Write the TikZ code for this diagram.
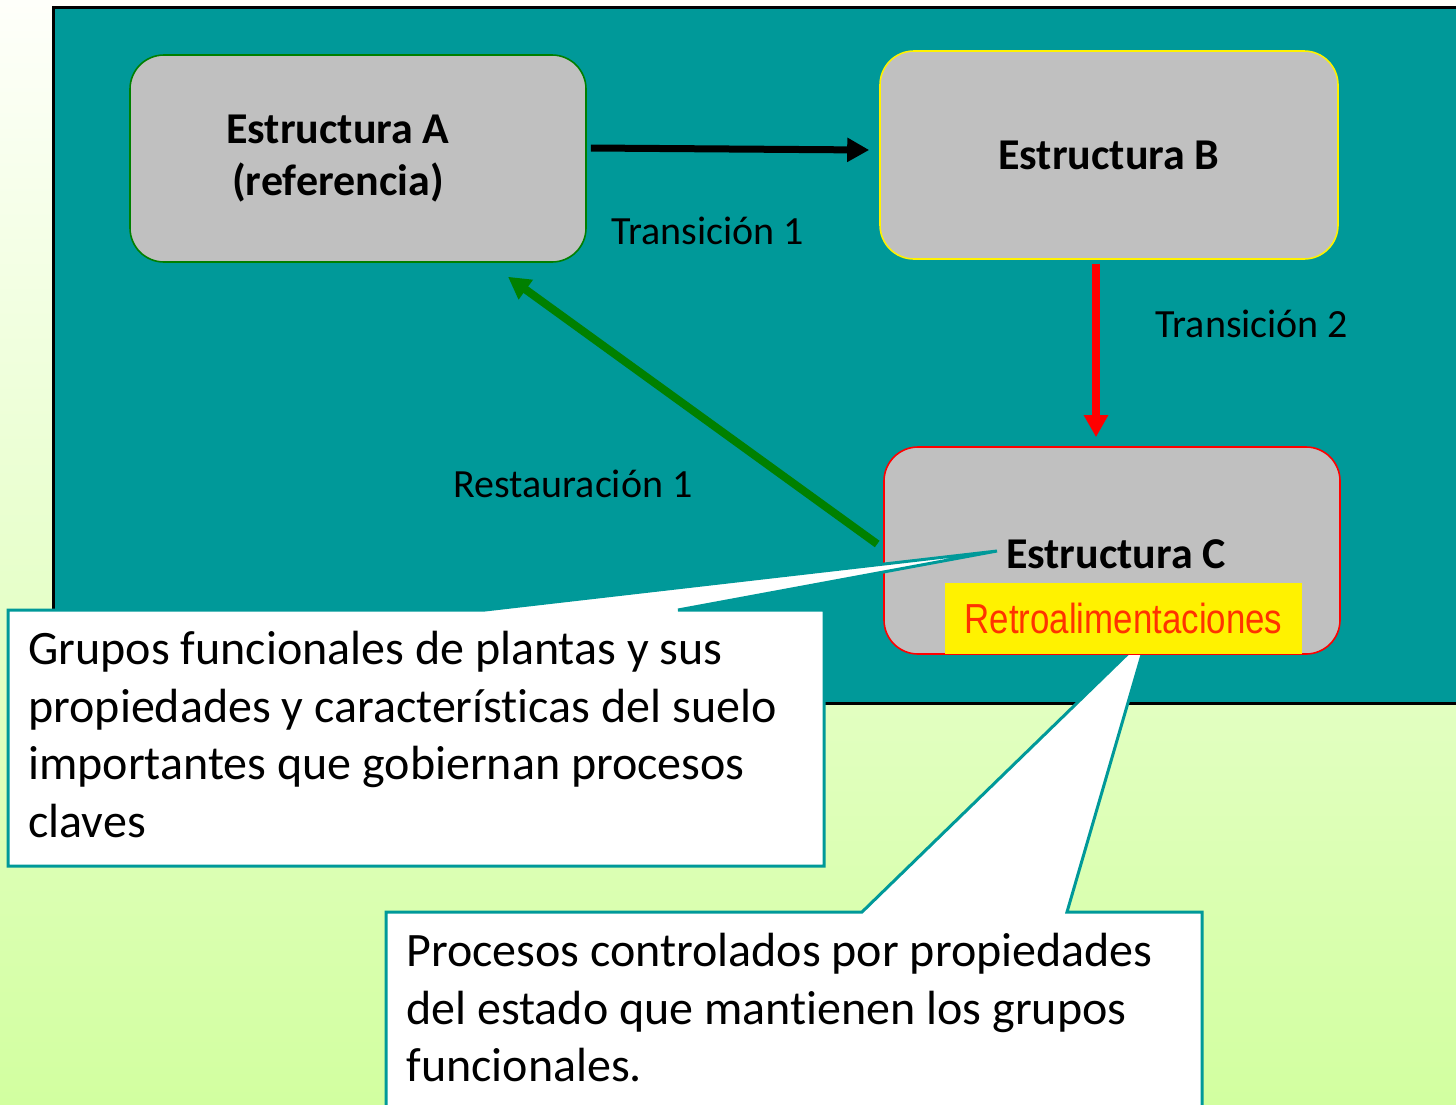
\documentclass[tikz,border=0pt]{standalone}
\usepackage{fontspec}
\setmainfont{Carlito}[Ligatures=NoCommon]
\newfontfamily\arialfont{Liberation Sans}
\usetikzlibrary{arrows.meta,calc}
\definecolor{teal1}{RGB}{0,153,153}
\definecolor{boxgray}{RGB}{192,192,192}
\definecolor{darkgreen}{RGB}{0,128,0}
\definecolor{retro}{RGB}{255,51,0}
\definecolor{bgtop}{RGB}{254,255,250}
\definecolor{bgbot}{RGB}{210,255,160}
\begin{document}
\begin{tikzpicture}[x=0.5pt,y=-0.5pt,
  stbox/.style={draw, fill=boxgray, rounded corners=17pt, line width=0.8pt, inner sep=0pt},
  titlefont/.style={font=\bfseries\fontsize{22}{26}\selectfont, align=center},
  lblfont/.style={font=\fontsize{20}{24}\selectfont},
  callfont/.style={font=\fontsize{24}{28.75}\selectfont, align=left, anchor=north west, inner sep=0pt},
  callshape/.style={fill=white, draw=teal1, line width=1.5pt, line join=miter},
  tip/.style={-{Triangle[length=11pt,width=11.5pt]}}
]
\useasboundingbox (0,0) rectangle (1456,1104);
\shade[top color=bgtop, bottom color=bgbot] (0,0) rectangle (1456,1104);
\filldraw[fill=teal1, draw=black, line width=1.5pt] (53,7) rectangle (1480,703);

% boxes A and B
\node[stbox, draw=darkgreen, minimum width=228pt, minimum height=103.5pt] (A) at (358,158.5) {};
\node[titlefont] (At) at (338,159) {Estructura A\\(referencia)};
\node[stbox, draw=yellow, minimum width=229pt, minimum height=104pt, titlefont] (B) at (1109,155) {Estructura B};

% callout 2 (behind box C)
\filldraw[callshape] (386,912) -- (862,912) -- (1148,634) -- (1067,912) -- (1202,912) -- (1202,1112) -- (386,1112) -- cycle;
\node[callfont] (g2) at (406,933) {Procesos controlados por propiedades\\del estado que mantienen los grupos\\funcionales.};

% box C
\node[stbox, draw=red, minimum width=228pt, minimum height=103.5pt] (C) at (1112,550.5) {};
\node[titlefont] (Ct) at (1116,554) {Estructura C};
\node[fill=yellow, minimum width=178.5pt, minimum height=35.5pt, inner sep=0pt] (R) at (1123.5,618.5)
  {\arialfont\fontsize{21}{25}\selectfont\color{retro}\scalebox{0.83}[1]{Retroalimentaciones}};

% connectors
\draw[tip, line width=3.5pt, black] ([shift={(4,-10.5)}]A.east) -- ([shift={(-10,-5)}]B.west);
\draw[tip, line width=3.8pt, red] ([shift={(-13,4)}]B.south) -- ([shift={(-16,-9)}]C.north);
\draw[tip, line width=4pt, darkgreen] ([shift={(-6,-6.5)}]C.west) -- ([shift={(150,14)}]A.south);

% labels
\node[lblfont] (t1) at (708,231) {Transición 1};
\node[lblfont] (t2) at (1252,324) {Transición 2};
\node[lblfont] (r1) at (573,484) {Restauración 1};

% callout 1 (on top)
\filldraw[callshape] (8,610) -- (485,610) -- (997,551) -- (678,610) -- (824,610) -- (824,866) -- (8,866) -- cycle;
\node[callfont] (g1) at (28,631) {Grupos funcionales de plantas y sus\\propiedades y características del suelo\\importantes que gobiernan procesos\\claves};
\end{tikzpicture}
\end{document}
